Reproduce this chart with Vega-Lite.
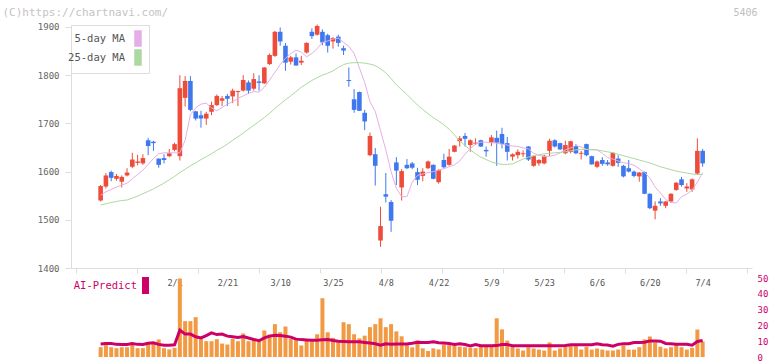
{
"$schema":"https://vega.github.io/schema/vega-lite/v6.json",
"autosize":{"type":"none"},
"padding":{"left":71,"top":25,"right":20,"bottom":4},
"width":681,"height":332,
"background":"white",
"config":{"view":{"stroke":null},"axis":{"labelFont":"DejaVu Sans Mono","titleFont":"DejaVu Sans Mono"},"legend":{"labelFont":"DejaVu Sans Mono"}},
"data":{"values":[
{"i":0,"open":1540,"high":1572,"low":1538,"close":1570,"ma5":1551,"ma25":1531,"vol":6.2,"ai":8.2},
{"i":1,"open":1569,"high":1597,"low":1565,"close":1592,"ma5":1558,"ma25":1533,"vol":7.5,"ai":8.5},
{"i":2,"open":1599,"high":1602,"low":1580,"close":1587,"ma5":1563,"ma25":1536,"vol":6.2,"ai":8.5},
{"i":3,"open":1585,"high":1595,"low":1581,"close":1591,"ma5":1568,"ma25":1538,"vol":5.6,"ai":8.0},
{"i":4,"open":1579,"high":1592,"low":1567,"close":1589,"ma5":1572,"ma25":1540,"vol":6.2,"ai":7.9},
{"i":5,"open":1592,"high":1607,"low":1590,"close":1598,"ma5":1576,"ma25":1541,"vol":6.2,"ai":7.9},
{"i":6,"open":1610,"high":1639,"low":1607,"close":1625,"ma5":1585,"ma25":1545,"vol":7.7,"ai":8.5},
{"i":7,"open":1618,"high":1635,"low":1613,"close":1621,"ma5":1594,"ma25":1549,"vol":5.6,"ai":8.0},
{"i":8,"open":1617,"high":1636,"low":1614,"close":1628,"ma5":1603,"ma25":1554,"vol":5.6,"ai":7.9},
{"i":9,"open":1665,"high":1670,"low":1634,"close":1653,"ma5":1615,"ma25":1559,"vol":9.2,"ai":8.7},
{"i":10,"open":1662,"high":1664,"low":1643,"close":1659,"ma5":1627,"ma25":1564,"vol":8.2,"ai":9.0},
{"i":11,"open":1627,"high":1627,"low":1608,"close":1614,"ma5":1637,"ma25":1570,"vol":11.1,"ai":8.0},
{"i":12,"open":1628,"high":1636,"low":1617,"close":1624,"ma5":1639,"ma25":1576,"vol":5.6,"ai":7.5},
{"i":13,"open":1632,"high":1647,"low":1630,"close":1638,"ma5":1639,"ma25":1583,"vol":4.8,"ai":7.5},
{"i":14,"open":1645,"high":1660,"low":1642,"close":1657,"ma5":1639,"ma25":1590,"vol":5.8,"ai":7.7},
{"i":15,"open":1632,"high":1800,"low":1623,"close":1773,"ma5":1639,"ma25":1598,"vol":49.7,"ai":17.0},
{"i":16,"open":1753,"high":1798,"low":1735,"close":1788,"ma5":1665,"ma25":1605,"vol":22.7,"ai":14.5},
{"i":17,"open":1788,"high":1798,"low":1725,"close":1728,"ma5":1718,"ma25":1612,"vol":22.7,"ai":14.5},
{"i":18,"open":1725,"high":1726,"low":1706,"close":1710,"ma5":1732,"ma25":1618,"vol":25.2,"ai":12.8},
{"i":19,"open":1717,"high":1726,"low":1691,"close":1710,"ma5":1740,"ma25":1625,"vol":11.5,"ai":12.1},
{"i":20,"open":1710,"high":1724,"low":1697,"close":1720,"ma5":1742,"ma25":1631,"vol":10.0,"ai":13.5},
{"i":21,"open":1724,"high":1745,"low":1717,"close":1738,"ma5":1732,"ma25":1637,"vol":10.0,"ai":15.3},
{"i":22,"open":1738,"high":1760,"low":1736,"close":1757,"ma5":1726,"ma25":1644,"vol":11.3,"ai":14.2},
{"i":23,"open":1747,"high":1757,"low":1736,"close":1752,"ma5":1733,"ma25":1650,"vol":8.5,"ai":14.5},
{"i":24,"open":1757,"high":1761,"low":1736,"close":1751,"ma5":1740,"ma25":1657,"vol":7.9,"ai":13.2},
{"i":25,"open":1756,"high":1772,"low":1742,"close":1768,"ma5":1745,"ma25":1665,"vol":11.5,"ai":12.8},
{"i":26,"open":1765,"high":1768,"low":1736,"close":1767,"ma5":1752,"ma25":1672,"vol":10.0,"ai":12.3},
{"i":27,"open":1768,"high":1800,"low":1766,"close":1790,"ma5":1757,"ma25":1680,"vol":14.9,"ai":13.0},
{"i":28,"open":1785,"high":1789,"low":1761,"close":1768,"ma5":1762,"ma25":1688,"vol":10.0,"ai":12.0},
{"i":29,"open":1772,"high":1804,"low":1768,"close":1792,"ma5":1766,"ma25":1696,"vol":11.7,"ai":11.1},
{"i":30,"open":1787,"high":1800,"low":1768,"close":1784,"ma5":1765,"ma25":1704,"vol":10.0,"ai":10.3},
{"i":31,"open":1783,"high":1817,"low":1782,"close":1816,"ma5":1775,"ma25":1712,"vol":16.8,"ai":12.1},
{"i":32,"open":1823,"high":1845,"low":1821,"close":1842,"ma5":1790,"ma25":1721,"vol":14.2,"ai":13.2},
{"i":33,"open":1840,"high":1892,"low":1838,"close":1890,"ma5":1806,"ma25":1731,"vol":20.8,"ai":13.8},
{"i":34,"open":1890,"high":1899,"low":1861,"close":1870,"ma5":1822,"ma25":1740,"vol":15.7,"ai":13.6},
{"i":35,"open":1861,"high":1867,"low":1809,"close":1826,"ma5":1835,"ma25":1749,"vol":19.3,"ai":13.2},
{"i":36,"open":1828,"high":1840,"low":1822,"close":1837,"ma5":1845,"ma25":1757,"vol":11.5,"ai":12.6},
{"i":37,"open":1837,"high":1845,"low":1820,"close":1820,"ma5":1852,"ma25":1766,"vol":10.6,"ai":11.3},
{"i":38,"open":1826,"high":1840,"low":1821,"close":1830,"ma5":1848,"ma25":1775,"vol":7.3,"ai":11.0},
{"i":39,"open":1847,"high":1868,"low":1845,"close":1867,"ma5":1838,"ma25":1782,"vol":11.1,"ai":10.8},
{"i":40,"open":1890,"high":1897,"low":1875,"close":1881,"ma5":1845,"ma25":1789,"vol":10.0,"ai":10.6},
{"i":41,"open":1884,"high":1905,"low":1882,"close":1902,"ma5":1855,"ma25":1795,"vol":14.4,"ai":10.6},
{"i":42,"open":1890,"high":1895,"low":1862,"close":1868,"ma5":1868,"ma25":1800,"vol":37.2,"ai":10.9},
{"i":43,"open":1883,"high":1886,"low":1847,"close":1861,"ma5":1871,"ma25":1804,"vol":15.7,"ai":11.0},
{"i":44,"open":1870,"high":1879,"low":1855,"close":1877,"ma5":1875,"ma25":1809,"vol":12.1,"ai":10.4},
{"i":45,"open":1880,"high":1884,"low":1859,"close":1867,"ma5":1877,"ma25":1816,"vol":9.4,"ai":10.0},
{"i":46,"open":1856,"high":1861,"low":1842,"close":1851,"ma5":1868,"ma25":1822,"vol":22.0,"ai":9.8},
{"i":47,"open":1790,"high":1816,"low":1776,"close":1788,"ma5":1860,"ma25":1825,"vol":20.8,"ai":9.6},
{"i":48,"open":1750,"high":1771,"low":1722,"close":1728,"ma5":1845,"ma25":1826,"vol":14.4,"ai":9.6},
{"i":49,"open":1765,"high":1766,"low":1726,"close":1726,"ma5":1815,"ma25":1826,"vol":11.8,"ai":9.6},
{"i":50,"open":1722,"high":1728,"low":1686,"close":1704,"ma5":1785,"ma25":1825,"vol":13.5,"ai":9.2},
{"i":51,"open":1634,"high":1681,"low":1632,"close":1674,"ma5":1745,"ma25":1823,"vol":18.9,"ai":8.8},
{"i":52,"open":1636,"high":1649,"low":1571,"close":1612,"ma5":1725,"ma25":1820,"vol":20.8,"ai":8.4},
{"i":53,"open":1457,"high":1527,"low":1444,"close":1487,"ma5":1685,"ma25":1813,"vol":24.5,"ai":7.4},
{"i":54,"open":1553,"high":1597,"low":1536,"close":1548,"ma5":1645,"ma25":1805,"vol":18.9,"ai":8.4},
{"i":55,"open":1537,"high":1541,"low":1475,"close":1498,"ma5":1600,"ma25":1793,"vol":20.8,"ai":8.0},
{"i":56,"open":1619,"high":1630,"low":1572,"close":1602,"ma5":1565,"ma25":1780,"vol":16.2,"ai":8.2},
{"i":57,"open":1567,"high":1605,"low":1540,"close":1601,"ma5":1548,"ma25":1770,"vol":13.1,"ai":8.2},
{"i":58,"open":1614,"high":1626,"low":1605,"close":1607,"ma5":1548,"ma25":1760,"vol":7.5,"ai":8.3},
{"i":59,"open":1617,"high":1620,"low":1605,"close":1608,"ma5":1578,"ma25":1749,"vol":6.1,"ai":8.7},
{"i":60,"open":1599,"high":1608,"low":1572,"close":1583,"ma5":1592,"ma25":1738,"vol":10.5,"ai":9.3},
{"i":61,"open":1591,"high":1607,"low":1580,"close":1600,"ma5":1595,"ma25":1729,"vol":5.5,"ai":9.2},
{"i":62,"open":1607,"high":1623,"low":1605,"close":1621,"ma5":1598,"ma25":1720,"vol":3.8,"ai":9.2},
{"i":63,"open":1614,"high":1615,"low":1584,"close":1585,"ma5":1600,"ma25":1712,"vol":5.5,"ai":9.6},
{"i":64,"open":1578,"high":1605,"low":1575,"close":1603,"ma5":1603,"ma25":1705,"vol":4.8,"ai":9.0},
{"i":65,"open":1624,"high":1637,"low":1607,"close":1609,"ma5":1606,"ma25":1697,"vol":7.9,"ai":8.9},
{"i":66,"open":1614,"high":1647,"low":1612,"close":1631,"ma5":1610,"ma25":1688,"vol":7.5,"ai":8.5},
{"i":67,"open":1641,"high":1655,"low":1640,"close":1654,"ma5":1614,"ma25":1676,"vol":7.0,"ai":7.9},
{"i":68,"open":1663,"high":1674,"low":1652,"close":1669,"ma5":1622,"ma25":1664,"vol":6.5,"ai":8.4},
{"i":69,"open":1674,"high":1680,"low":1652,"close":1668,"ma5":1636,"ma25":1654,"vol":6.2,"ai":7.9},
{"i":70,"open":1655,"high":1667,"low":1641,"close":1665,"ma5":1648,"ma25":1645,"vol":5.8,"ai":7.0},
{"i":71,"open":1658,"high":1669,"low":1655,"close":1660,"ma5":1657,"ma25":1637,"vol":5.6,"ai":7.9},
{"i":72,"open":1665,"high":1666,"low":1651,"close":1652,"ma5":1661,"ma25":1630,"vol":6.9,"ai":7.1},
{"i":73,"open":1645,"high":1652,"low":1631,"close":1642,"ma5":1661,"ma25":1625,"vol":6.9,"ai":7.1},
{"i":74,"open":1660,"high":1676,"low":1653,"close":1671,"ma5":1660,"ma25":1620,"vol":6.9,"ai":7.1},
{"i":75,"open":1670,"high":1685,"low":1612,"close":1660,"ma5":1659,"ma25":1617,"vol":24.5,"ai":7.2},
{"i":76,"open":1678,"high":1691,"low":1648,"close":1657,"ma5":1657,"ma25":1615,"vol":17.5,"ai":7.9},
{"i":77,"open":1659,"high":1672,"low":1623,"close":1641,"ma5":1655,"ma25":1615,"vol":10.4,"ai":7.9},
{"i":78,"open":1631,"high":1638,"low":1623,"close":1636,"ma5":1653,"ma25":1616,"vol":6.9,"ai":7.1},
{"i":79,"open":1634,"high":1646,"low":1627,"close":1641,"ma5":1652,"ma25":1621,"vol":5.4,"ai":7.1},
{"i":80,"open":1636,"high":1644,"low":1630,"close":1638,"ma5":1649,"ma25":1626,"vol":4.1,"ai":7.1},
{"i":81,"open":1652,"high":1653,"low":1622,"close":1625,"ma5":1647,"ma25":1630,"vol":6.2,"ai":7.1},
{"i":82,"open":1612,"high":1633,"low":1610,"close":1632,"ma5":1638,"ma25":1633,"vol":5.4,"ai":7.1},
{"i":83,"open":1617,"high":1626,"low":1612,"close":1624,"ma5":1634,"ma25":1635,"vol":4.7,"ai":7.1},
{"i":84,"open":1617,"high":1635,"low":1615,"close":1633,"ma5":1631,"ma25":1637,"vol":4.1,"ai":7.1},
{"i":85,"open":1643,"high":1668,"low":1632,"close":1664,"ma5":1632,"ma25":1638,"vol":9.2,"ai":7.1},
{"i":86,"open":1665,"high":1667,"low":1650,"close":1652,"ma5":1634,"ma25":1639,"vol":4.1,"ai":7.1},
{"i":87,"open":1659,"high":1660,"low":1645,"close":1646,"ma5":1639,"ma25":1640,"vol":5.4,"ai":7.1},
{"i":88,"open":1638,"high":1664,"low":1636,"close":1655,"ma5":1645,"ma25":1641,"vol":6.5,"ai":7.3},
{"i":89,"open":1641,"high":1664,"low":1638,"close":1663,"ma5":1649,"ma25":1643,"vol":6.9,"ai":7.7},
{"i":90,"open":1653,"high":1657,"low":1636,"close":1638,"ma5":1654,"ma25":1645,"vol":6.9,"ai":7.7},
{"i":91,"open":1637,"high":1643,"low":1625,"close":1639,"ma5":1651,"ma25":1646,"vol":4.7,"ai":7.7},
{"i":92,"open":1657,"high":1658,"low":1632,"close":1634,"ma5":1646,"ma25":1646,"vol":6.5,"ai":7.7},
{"i":93,"open":1632,"high":1633,"low":1614,"close":1615,"ma5":1645,"ma25":1646,"vol":4.7,"ai":7.7},
{"i":94,"open":1610,"high":1623,"low":1607,"close":1621,"ma5":1645,"ma25":1645,"vol":5.4,"ai":8.4},
{"i":95,"open":1624,"high":1630,"low":1612,"close":1616,"ma5":1638,"ma25":1643,"vol":4.7,"ai":7.7},
{"i":96,"open":1619,"high":1624,"low":1612,"close":1615,"ma5":1629,"ma25":1641,"vol":4.1,"ai":7.6},
{"i":97,"open":1612,"high":1640,"low":1610,"close":1639,"ma5":1626,"ma25":1639,"vol":4.1,"ai":6.8},
{"i":98,"open":1627,"high":1634,"low":1610,"close":1618,"ma5":1622,"ma25":1636,"vol":4.7,"ai":8.0},
{"i":99,"open":1612,"high":1614,"low":1588,"close":1590,"ma5":1618,"ma25":1633,"vol":7.3,"ai":8.4},
{"i":100,"open":1607,"high":1624,"low":1598,"close":1600,"ma5":1617,"ma25":1630,"vol":4.7,"ai":8.4},
{"i":101,"open":1600,"high":1602,"low":1588,"close":1591,"ma5":1613,"ma25":1627,"vol":4.7,"ai":9.2},
{"i":102,"open":1590,"high":1599,"low":1579,"close":1598,"ma5":1606,"ma25":1624,"vol":6.2,"ai":9.2},
{"i":103,"open":1599,"high":1600,"low":1553,"close":1554,"ma5":1598,"ma25":1621,"vol":11.1,"ai":9.4},
{"i":104,"open":1554,"high":1555,"low":1522,"close":1524,"ma5":1587,"ma25":1618,"vol":13.0,"ai":10.2},
{"i":105,"open":1519,"high":1538,"low":1501,"close":1529,"ma5":1568,"ma25":1614,"vol":9.2,"ai":10.2},
{"i":106,"open":1538,"high":1545,"low":1529,"close":1534,"ma5":1556,"ma25":1610,"vol":6.5,"ai":10.0},
{"i":107,"open":1529,"high":1539,"low":1524,"close":1538,"ma5":1542,"ma25":1607,"vol":5.4,"ai":8.6},
{"i":108,"open":1538,"high":1555,"low":1536,"close":1554,"ma5":1536,"ma25":1604,"vol":6.2,"ai":8.4},
{"i":109,"open":1562,"high":1578,"low":1560,"close":1577,"ma5":1535,"ma25":1601,"vol":7.6,"ai":8.0},
{"i":110,"open":1584,"high":1589,"low":1569,"close":1572,"ma5":1548,"ma25":1599,"vol":6.2,"ai":8.0},
{"i":111,"open":1565,"high":1576,"low":1558,"close":1569,"ma5":1553,"ma25":1597,"vol":4.7,"ai":8.0},
{"i":112,"open":1563,"high":1586,"low":1558,"close":1584,"ma5":1562,"ma25":1595,"vol":5.8,"ai":7.5},
{"i":113,"open":1596,"high":1669,"low":1593,"close":1643,"ma5":1578,"ma25":1594,"vol":17.4,"ai":9.8},
{"i":114,"open":1643,"high":1647,"low":1610,"close":1617,"ma5":1598,"ma25":1594,"vol":9.8,"ai":10.4}
]},
"layer":[
{"layer":[
 {"mark":{"type":"rule","strokeWidth":1},
  "encoding":{
   "x":{"field":"i","type":"quantitative","scale":{"domain":[-4.6646,122.398],"nice":false,"zero":false},
        "axis":{"orient":"bottom","offset":-89,"values":[-4.6646,6.8866,18.4378,29.989,41.5402,53.0914,64.6426,76.1938,87.745,99.2962,110.8474,122.398],
                "labels":false,"ticks":true,"tickSize":5,"tickColor":"#dddddd","domainColor":"#dddddd","grid":false,
                "title":"(C)https://chartnavi.com/","titleX":-69,"titleY":-256,"titleAlign":"left","titleBaseline":"middle","titleAngle":0,
                "titleFontSize":11,"titleFontWeight":"normal","titleColor":"#c4c4c4"}},
   "y":{"field":"low","type":"quantitative","scale":{"domain":[1400,1904.1],"range":[243,0],"nice":false,"zero":false},
        "axis":{"orient":"left","values":[1400,1500,1600,1700,1800,1900],"format":"d","tickSize":6,"tickColor":"#dddddd","domainColor":"#dddddd",
                "labelColor":"#666666","labelFontSize":9,"labelPadding":6,"grid":false,
                "title":"5406","titleX":686,"titleY":-13,"titleAngle":0,"titleAlign":"right","titleBaseline":"middle",
                "titleFontSize":10,"titleFontWeight":"normal","titleColor":"#c0c0c0"}},
   "y2":{"field":"high"},
   "color":{"condition":{"test":"datum.close >= datum.open","value":"#ee4c3b"},"value":"#3f78ee"}
  }},
 {"mark":{"type":"bar","size":4.6},
  "encoding":{
   "x":{"field":"i","type":"quantitative"},
   "y":{"field":"open","type":"quantitative"},
   "y2":{"field":"close"},
   "color":{"condition":{"test":"datum.close >= datum.open","value":"#ee4c3b"},"value":"#3f78ee"}
  }},
 {"transform":[{"fold":["ma5","ma25"],"as":["series","ma"]}],
  "mark":{"type":"line","strokeWidth":1},
  "encoding":{
   "x":{"field":"i","type":"quantitative"},
   "y":{"field":"ma","type":"quantitative"},
   "color":{"field":"series","type":"nominal","scale":{"domain":["ma5","ma25"],"range":["#e6aee6","#acd9a0"]},
     "legend":{"orient":"top-left","offset":0,"title":null,
       "labelExpr":"datum.value == 'ma5' ? '5-day MA' : '25-day MA'",
       "labelAlign":"right","labelOffset":-21.5,"symbolOffset":53.5,
       "symbolType":"M-0.4,-1H0.4V1H-0.4Z","symbolSize":225,"symbolStrokeWidth":1.5,
       "padding":5,"rowPadding":-4,"strokeColor":"#dddddd","fillColor":"#ffffff",
       "labelFontSize":10.5,"labelColor":"#555555",
       "encode":{"symbols":{"update":{"fill":{"scale":"color","field":"value"},"stroke":{"value":"#555555"},"strokeWidth":{"value":1.5}}}}}}
  }}
]},
{"layer":[
 {"mark":{"type":"bar","size":4,"color":"#f29a43"},
  "encoding":{
   "x":{"field":"i","type":"quantitative",
        "axis":{"orient":"bottom","offset":-79,"values":[14,24,34,44,54,64,74,84,94,104,114],
                "labelExpr":"['2/1','2/21','3/10','3/25','4/8','4/22','5/9','5/23','6/6','6/20','7/4'][round((datum.value-14)/10)]",
                "domain":false,"ticks":false,"tickSize":0,"labelPadding":0,"labelBaseline":"top","labelColor":"#555555",
                "labelFontSize":8.5,"labelFlush":false,"labelOverlap":false,"grid":false,"title":null}},
   "y":{"field":"vol","type":"quantitative","scale":{"domain":[0,50],"range":[332,253],"nice":false},
        "axis":{"orient":"right","values":[0,10,20,30,40,50],"domain":false,"ticks":false,"labelPadding":5,
                "labelColor":"#cc0066","labelFontSize":9,"grid":false,"title":null}}
  }},
 {"mark":{"type":"line","strokeWidth":3},
  "encoding":{
   "x":{"field":"i","type":"quantitative"},
   "y":{"field":"ai","type":"quantitative"},
   "stroke":{"datum":"AI-Predict","scale":{"range":["#cc0066"]},
     "legend":{"orient":"none","legendX":4,"legendY":252,"title":null,
       "labelAlign":"right","labelOffset":-17,"symbolOffset":62,
       "symbolType":"M-0.41,-1H0.41V1H-0.41Z","symbolSize":289,"symbolStrokeWidth":0,
       "padding":0,"labelColor":"#cc0066","labelFontSize":10.5,
       "encode":{"symbols":{"update":{"fill":{"value":"#cc0066"},"stroke":{"value":"#cc0066"}}}}}}
  }}
]}
],
"resolve":{"scale":{"y":"independent"},"axis":{"x":"independent","y":"independent"}}
}
